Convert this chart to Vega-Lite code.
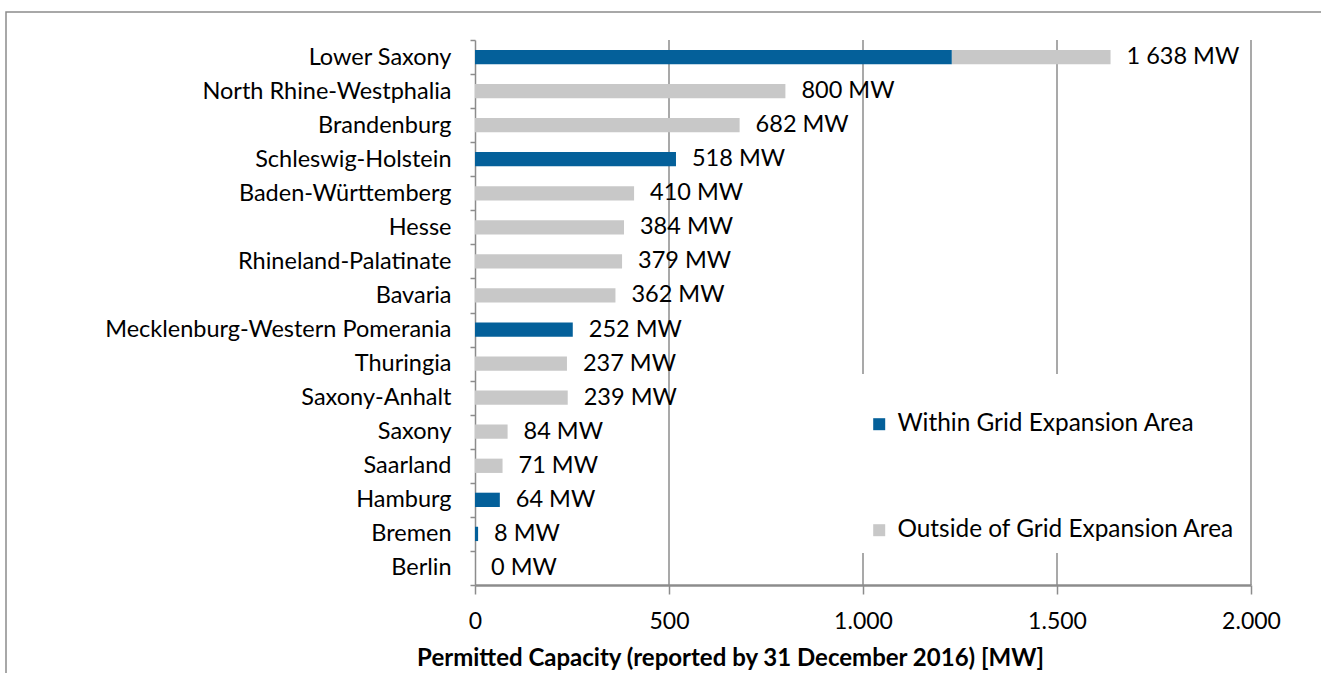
{
  "$schema": "https://vega.github.io/schema/vega-lite/v6.json",
  "width": 1320,
  "height": 666,
  "autosize": {"type": "none"},
  "padding": {"left": 6, "top": 12, "right": 0, "bottom": 0},
  "background": "white",
  "config": {
    "font": "Lato",
    "view": {"stroke": "#8c8c8c", "strokeWidth": 1.5}
  },
  "datasets": {
    "capacity": [
      {"state": "Lower Saxony", "area": "Within Grid Expansion Area", "value": 1229},
      {"state": "Lower Saxony", "area": "Outside of Grid Expansion Area", "value": 409},
      {"state": "North Rhine-Westphalia", "area": "Outside of Grid Expansion Area", "value": 800},
      {"state": "Brandenburg", "area": "Outside of Grid Expansion Area", "value": 682},
      {"state": "Schleswig-Holstein", "area": "Within Grid Expansion Area", "value": 518},
      {"state": "Baden-Württemberg", "area": "Outside of Grid Expansion Area", "value": 410},
      {"state": "Hesse", "area": "Outside of Grid Expansion Area", "value": 384},
      {"state": "Rhineland-Palatinate", "area": "Outside of Grid Expansion Area", "value": 379},
      {"state": "Bavaria", "area": "Outside of Grid Expansion Area", "value": 362},
      {"state": "Mecklenburg-Western Pomerania", "area": "Within Grid Expansion Area", "value": 252},
      {"state": "Thuringia", "area": "Outside of Grid Expansion Area", "value": 237},
      {"state": "Saxony-Anhalt", "area": "Outside of Grid Expansion Area", "value": 239},
      {"state": "Saxony", "area": "Outside of Grid Expansion Area", "value": 84},
      {"state": "Saarland", "area": "Outside of Grid Expansion Area", "value": 71},
      {"state": "Hamburg", "area": "Within Grid Expansion Area", "value": 64},
      {"state": "Bremen", "area": "Within Grid Expansion Area", "value": 8},
      {"state": "Berlin", "area": "Outside of Grid Expansion Area", "value": 0}
    ],
    "gridlines": [{"g": 500}, {"g": 1000}, {"g": 1500}, {"g": 2000}]
  },
  "layer": [
    {
      "data": {"name": "gridlines"},
      "mark": {"type": "rule", "color": "#8c8c8c", "strokeWidth": 1.5},
      "encoding": {
        "x": {"field": "g", "type": "quantitative"},
        "y": {"datum": "Lower Saxony", "type": "nominal", "bandPosition": 0},
        "y2": {"datum": "Berlin", "bandPosition": 1}
      }
    },
    {
      "data": {"name": "capacity"},
      "mark": {"type": "bar", "height": {"band": 0.42}},
      "encoding": {
        "y": {
          "field": "state",
          "type": "nominal",
          "sort": null,
          "scale": {
            "domain": ["Lower Saxony", "North Rhine-Westphalia", "Brandenburg", "Schleswig-Holstein", "Baden-Württemberg", "Hesse", "Rhineland-Palatinate", "Bavaria", "Mecklenburg-Western Pomerania", "Thuringia", "Saxony-Anhalt", "Saxony", "Saarland", "Hamburg", "Bremen", "Berlin"],
            "range": [28, 573],
            "paddingInner": 0,
            "paddingOuter": 0
          },
          "axis": {
            "title": null,
            "orient": "left",
            "offset": -469,
            "domainColor": "#8c8c8c",
            "domainWidth": 1.5,
            "tickColor": "#8c8c8c",
            "tickWidth": 1.5,
            "tickSize": 5,
            "tickBand": "extent",
            "labelFontSize": 23.5,
            "labelColor": "black",
            "labelPadding": 19,
            "labelLimit": 600
          }
        },
        "x": {
          "field": "value",
          "type": "quantitative",
          "stack": "zero",
          "scale": {"domain": [0, 2000], "range": [469, 1245], "nice": false},
          "axis": {
            "title": "Permitted Capacity (reported by 31 December 2016) [MW]",
            "titleFontSize": 24,
            "titleFontWeight": "bold",
            "titleColor": "black",
            "titlePadding": 13,
            "titleX": 724,
            "titleAlign": "center",
            "values": [0, 500, 1000, 1500, 2000],
            "labelExpr": "replace(datum.label, ',', '.')",
            "labelFlush": false,
            "offset": -93,
            "grid": false,
            "domainColor": "#8c8c8c",
            "domainWidth": 2.5,
            "tickColor": "#8c8c8c",
            "tickWidth": 1.5,
            "tickSize": 9,
            "labelFontSize": 23,
            "labelColor": "black",
            "labelPadding": 16,
            "zindex": 0
          }
        },
        "color": {
          "field": "area",
          "type": "nominal",
          "scale": {
            "domain": ["Within Grid Expansion Area", "Outside of Grid Expansion Area"],
            "range": ["#04609a", "#c8c8c8"]
          },
          "legend": {
            "orient": "none",
            "legendX": 850,
            "legendY": 362,
            "title": " ",
            "titleFontSize": 20,
            "titlePadding": 7,
            "padding": 11,
            "fillColor": "white",
            "symbolType": "square",
            "symbolSize": 144,
            "symbolStrokeWidth": 0,
            "symbolOpacity": 1,
            "labelFontSize": 24.4,
            "labelColor": "black",
            "labelOffset": 6,
            "rowPadding": 81,
            "labelLimit": 600
          }
        },
        "order": {"field": "area", "sort": "descending"}
      }
    },
    {
      "data": {"name": "capacity"},
      "transform": [
        {"aggregate": [{"op": "sum", "field": "value", "as": "total"}], "groupby": ["state"]},
        {"calculate": "replace(format(datum.total, ','), ',', ' ') + ' MW'", "as": "label"}
      ],
      "mark": {"type": "text", "align": "left", "baseline": "middle", "dx": 16, "fontSize": 23.5, "color": "black"},
      "encoding": {
        "y": {"field": "state", "type": "nominal", "sort": null},
        "x": {"field": "total", "type": "quantitative"},
        "text": {"field": "label"}
      }
    }
  ]
}
